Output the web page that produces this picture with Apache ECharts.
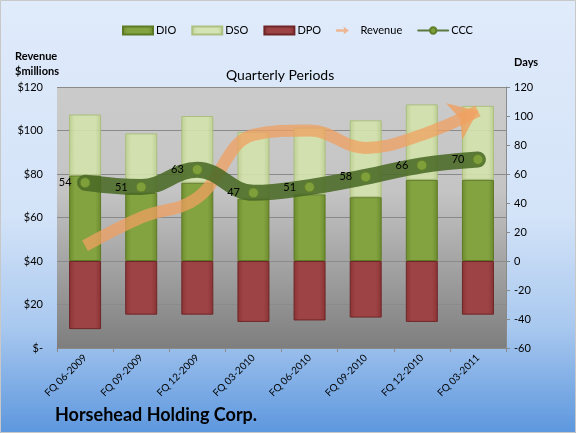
<!DOCTYPE html>
<html>
<head>
<meta charset="utf-8">
<script src="https://cdn.jsdelivr.net/npm/echarts@6/dist/echarts.min.js"></script>
<style>
html,body{margin:0;padding:0;background:#fff;}
#c{width:576px;height:433px;}
</style>
</head>
<body>
<div id="c"></div>
<script>
var categories = ['FQ 06-2009','FQ 09-2009','FQ 12-2009','FQ 03-2010','FQ 06-2010','FQ 09-2010','FQ 12-2010','FQ 03-2011'];
var dio = [59, 47, 54, 43, 46, 44, 56, 56];
var dso = [42, 41, 46, 46, 46, 53, 52, 51];
var dpo = [47, 37, 37, 42, 41, 39, 42, 37];
var revenue = [47, 60, 69, 98, 100, 92, 98, 109];
var ccc = [54, 51, 63, 47, 51, 58, 66, 70];
var leftTicks = ['$-', '$20', '$40', '$60', '$80', '$100', '$120'];

var FONT = 'Lato, "Open Sans", sans-serif';
var chart = echarts.init(document.getElementById('c'));

function hgrad(edge, mid) {
  return new echarts.graphic.LinearGradient(0, 0, 1, 0, [
    {offset: 0, color: edge}, {offset: 0.18, color: mid},
    {offset: 0.82, color: mid}, {offset: 1, color: edge}
  ]);
}

var revData = revenue.map(function (v, i) {
  if (i === revenue.length - 1) {
    return {value: v, symbol: 'arrow', symbolSize: [30, 26], symbolRotate: -66,
      itemStyle: {color: '#f0a060', opacity: 0.8}};
  }
  return v;
});

var option = {
  animation: false,
  backgroundColor: new echarts.graphic.LinearGradient(0, 0, 0, 1, [
    {offset: 0, color: '#e0ebfb'}, {offset: 0.5, color: '#d3e3f8'},
    {offset: 0.75, color: '#aac9ef'}, {offset: 1, color: '#5d97de'}
  ]),
  textStyle: {fontFamily: FONT},
  graphic: [
    {type: 'rect', shape: {x: 0.5, y: 0.5, width: 575, height: 432}, style: {fill: 'none', stroke: '#c8c8c8', lineWidth: 1}, silent: true},
    {type: 'text', left: 15, top: 49, style: {text: 'Revenue\n$millions', font: 'bold 11px ' + FONT, fill: '#000', lineHeight: 15}},
    {type: 'text', left: 514, top: 57, style: {text: 'Days', font: 'bold 11px ' + FONT, fill: '#000'}},
    {type: 'text', left: 226, top: 68, style: {text: 'Quarterly Periods', font: '14px ' + FONT, fill: '#000'}},
    {type: 'text', left: 55, top: 406, style: {text: 'Horsehead Holding Corp.', font: 'bold 18px ' + FONT, fill: '#000'}}
  ],
  legend: {
    left: 117, top: 20, itemWidth: 30, itemHeight: 8, itemGap: 15,
    textStyle: {fontSize: 11, color: '#000', fontFamily: FONT, padding: [0, 0, 0, -2]},
    data: [
      {name: 'DIO', icon: 'rect'},
      {name: 'DSO', icon: 'rect'},
      {name: 'DPO', icon: 'rect'},
      {name: 'Revenue', icon: 'path://M0,7 L20,7 L18,0 L32,10 L18,20 L20,13 L0,13 Z', itemStyle: {color: '#f0a878'}},
      {name: 'CCC'}
    ]
  },
  grid: {
    left: 57, right: 70, top: 87, bottom: 85, show: true, borderWidth: 0,
    backgroundColor: new echarts.graphic.LinearGradient(0, 0, 0, 1, [
      {offset: 0, color: '#cbcbcb'}, {offset: 0.4, color: '#c4c4c4'}, {offset: 1, color: '#7e7e7e'}
    ])
  },
  xAxis: {
    type: 'category', data: categories, boundaryGap: true,
    axisLine: {lineStyle: {color: '#8a8a8a'}},
    axisTick: {show: true, length: 4, lineStyle: {color: '#8a8a8a'}},
    axisLabel: {rotate: 45, fontSize: 10, color: '#000', fontFamily: FONT, margin: 8}
  },
  yAxis: [
    {
      type: 'value', min: 0, max: 120, interval: 20, position: 'left',
      axisLine: {show: false}, axisTick: {show: false},
      axisLabel: {fontSize: 11, color: '#000', margin: 14, fontFamily: FONT,
        formatter: function (v) { return leftTicks[Math.round(v / 20)]; }},
      splitLine: {show: true, lineStyle: {color: '#8a8a8a', width: 1}}
    },
    {
      type: 'value', min: -60, max: 120, interval: 20, position: 'right',
      axisLine: {show: true, lineStyle: {color: '#8a8a8a'}},
      axisTick: {show: true, length: 4, lineStyle: {color: '#8a8a8a'}},
      axisLabel: {fontSize: 11, color: '#000', margin: 8, fontFamily: FONT},
      splitLine: {show: false}
    }
  ],
  series: [
    {
      name: 'DIO', type: 'bar', stack: 'd', yAxisIndex: 1, barWidth: 32, data: dio,
      itemStyle: {color: hgrad('#6c8a2c', '#83a341'), borderColor: '#5d7a25', borderWidth: 1}
    },
    {
      name: 'DSO', type: 'bar', stack: 'd', yAxisIndex: 1, barWidth: 32, data: dso,
      itemStyle: {color: hgrad('#bdd08e', '#d3e3ac'), borderColor: '#a9bd78', borderWidth: 1, opacity: 0.9}
    },
    {
      name: 'DPO', type: 'bar', stack: 'd', yAxisIndex: 1, barWidth: 32,
      data: dpo.map(function (v) { return -v; }),
      itemStyle: {color: hgrad('#883234', '#9e4345'), borderColor: '#6e2628', borderWidth: 1}
    },
    {
      name: 'Revenue', type: 'line', yAxisIndex: 0, smooth: 0.4, symbol: 'none', showSymbol: true,
      data: revData, z: 3,
      lineStyle: {color: '#f0a060', width: 12, opacity: 0.75},
      itemStyle: {color: '#f0a060', opacity: 0.8}
    },
    {
      name: 'CCC', type: 'line', yAxisIndex: 1, smooth: 0.4, symbol: 'circle', symbolSize: 10,
      data: ccc, z: 4,
      lineStyle: {color: '#4a6a25', width: 16, opacity: 0.88, cap: 'round'},
      itemStyle: {color: '#7f9f3b', borderColor: '#5f7f2a', borderWidth: 1},
      label: {show: true, position: 'left', distance: 8, fontSize: 11, color: '#000', fontFamily: FONT}
    }
  ]
};
chart.setOption(option);
</script>
</body>
</html>
